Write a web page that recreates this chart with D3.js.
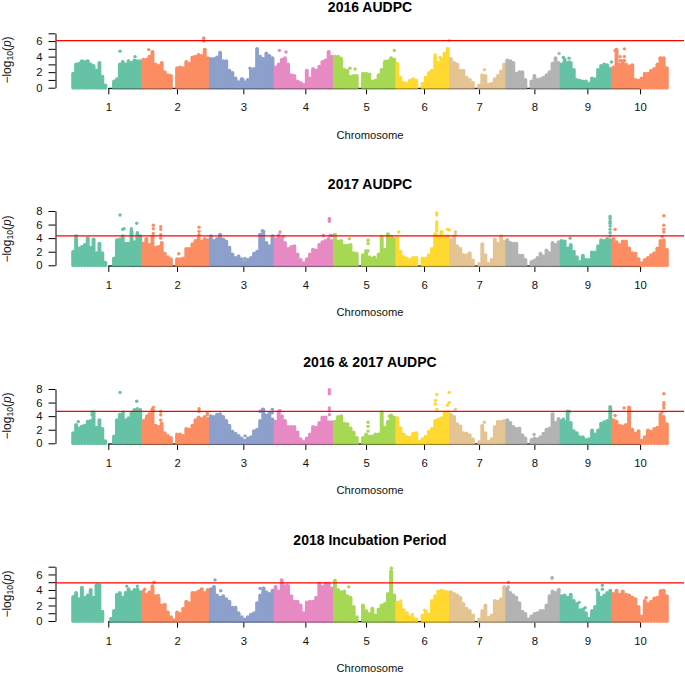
<!DOCTYPE html>
<html>
<head>
<meta charset="utf-8">
<script src="https://cdn.jsdelivr.net/npm/d3@7"></script>
<style>
body { margin: 0; background: #fff; }
svg { display: block; font-family: "Liberation Sans", Arial, sans-serif; }
</style>
</head>
<body>
<script>
const width = 685
const height = 673

const chromNames = ['1','2','3','4','5','6','7','8','9','10']
const chromLengths = [70, 67.6, 64.7, 59.3, 62.4, 53.6, 56.4, 54.3, 51.7, 56.6]
const chromTicks = [36.6, 105.3, 171.6, 233.6, 294.3, 352.3, 407.3, 462.6, 515.6, 568.3]
const chromColors = ['#66c2a5','#fc8d62','#8da0cb','#e78ac3','#a6d854','#ffd92f','#e5c494','#b3b3b3','#66c2a5','#fc8d62']

const panelTitles = ['2016 AUDPC', '2017 AUDPC', '2016 & 2017 AUDPC', '2018 Incubation Period']
const thresholds = [6.07, 4.32, 4.71, 4.9]
const yMaxes = [7, 8, 8, 7]
const yTicks = [[0,1,2,3,4,5,6,7], [0,2,4,6,8], [0,2,4,6,8], [0,1,2,3,4,5,6,7]]

// top of the point cloud along each chromosome, -log10(p), evenly spaced, null = no markers
const peaks2016 = [
  [1.8,3.0,3.1,3.4,3.3,3.4,3.0,2.8,2.2,3.2,1.4,0.3,null,null,0.8,1.1,3.0,3.3,3.0,3.4,3.2,3.5,3.4,3.4],
  [3.6,3.6,4.0,4.6,3.0,2.8,3.2,2.0,1.6,1.5,null,2.5,2.6,2.5,3.3,3.1,3.9,4.0,4.2,4.1,4.9,3.8],
  [3.7,3.7,3.9,4.5,3.4,3.4,2.2,1.9,1.2,0.7,1.1,0.7,1.0,2.3,2.4,5.0,4.0,3.7,4.4,4.1,3.8],
  [2.6,3.0,3.6,3.8,3.0,1.6,1.5,0.8,0.6,0.4,2.2,1.2,2.4,2.2,2.7,3.3,3.5,4.6,4.0],
  [4.0,4.0,3.5,2.3,2.2,1.4,1.5,1.5,null,1.8,1.8,1.7,0.8,0.9,1.6,2.3,3.2,3.4,3.8,3.6],
  [3.1,1.3,0.6,0.5,0.9,1.1,0.9,null,0.5,1.3,1.9,2.2,3.9,3.2,3.7,4.4,5.0],
  [3.7,3.2,3.0,2.2,2.2,1.3,1.0,0.6,null,0.3,1.6,1.5,0.4,0.5,1.1,1.5,2.1,3.0],
  [3.5,3.4,3.2,1.8,2.0,2.0,1.0,null,0.8,1.5,1.0,1.1,1.3,1.6,2.0,3.1,3.8,3.2],
  [3.0,3.6,3.2,3.2,2.3,1.0,0.9,0.8,0.8,0.5,1.2,1.1,2.3,2.8,3.0,2.9,2.4],
  [2.6,4.9,3.0,3.4,3.0,2.5,2.9,1.0,0.9,1.2,1.8,1.8,2.2,2.4,3.0,3.8,3.8,2.5]
]
const peaks2017 = [
  [2.0,4.3,2.5,2.7,3.0,4.0,2.6,3.8,1.8,3.2,1.8,0.4,null,null,1.0,3.7,3.8,4.3,3.2,3.2,5.0,3.4,4.5,4.3],
  [3.2,3.9,3.0,4.2,2.6,2.7,3.3,1.7,1.2,0.9,null,0.9,0.9,1.0,2.4,2.4,3.1,3.6,4.0,3.5,3.9,3.7],
  [4.3,3.6,3.9,4.5,3.8,3.5,2.6,1.6,1.1,1.3,0.9,0.5,0.8,1.1,1.7,2.0,4.5,5.0,3.3,2.8,4.3],
  [3.8,4.4,3.9,3.3,2.4,2.7,2.8,1.6,0.8,0.3,0.9,1.6,2.3,2.2,3.0,3.4,3.6,3.9,3.6],
  [4.5,3.5,3.6,2.9,2.9,3.0,1.8,1.7,null,1.5,2.1,1.2,1.0,0.8,1.6,4.2,2.3,4.6,4.2,3.9],
  [4.0,2.0,1.2,1.0,0.8,1.1,1.1,null,1.0,1.0,1.5,2.4,4.6,4.2,4.9,4.2,4.3],
  [3.7,4.2,2.8,2.4,1.5,1.5,1.8,0.7,null,0.2,3.1,1.5,0.2,0.8,3.8,3.2,4.3,3.5],
  [3.7,3.3,3.2,3.2,1.4,1.4,0.8,null,0.5,0.7,1.1,1.7,1.3,2.2,1.8,3.3,3.0,3.4],
  [3.6,3.5,2.5,3.0,2.0,1.2,0.5,1.4,0.8,0.8,1.9,1.9,2.8,3.7,3.6,3.9,3.7],
  [3.9,3.4,3.0,3.5,3.5,2.5,1.8,1.7,0.9,0.3,0.8,1.1,1.5,1.8,2.5,3.6,3.7,2.3]
]
const peaksBoth = [
  [1.5,2.7,2.2,2.5,2.6,3.2,3.3,4.6,2.3,3.4,2.1,0.3,null,null,1.0,3.4,4.2,4.4,3.4,3.7,4.5,4.9,4.7,4.9],
  [3.3,3.6,4.3,5.0,2.6,2.4,2.9,1.5,1.1,0.8,null,1.3,1.3,1.1,2.1,2.0,2.6,3.4,3.8,3.6,3.9,3.6],
  [4.0,3.9,4.2,4.3,3.9,3.3,2.6,1.7,1.4,1.1,0.7,0.4,0.7,0.9,1.8,2.0,3.3,5.0,4.1,4.4,3.5],
  [3.2,4.7,4.0,3.3,2.4,2.4,2.4,1.6,0.6,0.2,0.7,1.3,2.4,2.3,3.0,3.8,3.8,3.1,3.1],
  [3.2,3.9,4.0,2.9,2.8,2.2,1.6,0.8,null,0.8,1.3,1.0,1.0,1.3,1.3,4.6,2.3,3.2,4.1,3.8],
  [3.7,2.2,1.3,0.9,0.8,1.4,1.5,0.2,0.6,0.9,1.7,2.1,3.3,3.5,3.7,4.5,4.6],
  [4.2,3.9,2.8,2.5,1.5,1.4,1.2,0.6,null,0.2,2.6,1.5,0.2,0.6,2.4,3.2,3.2,3.3],
  [3.4,3.0,2.4,2.1,2.2,1.2,0.7,null,0.5,0.7,0.6,0.9,1.4,2.0,2.2,4.3,3.0,3.6],
  [3.3,3.2,4.7,3.0,1.8,1.5,0.9,0.9,0.5,0.6,1.9,1.3,1.9,2.9,3.1,3.3,5.2],
  [3.4,3.2,2.6,2.5,2.7,5.3,2.0,1.4,1.8,0.4,0.9,1.9,1.7,2.1,2.3,4.3,3.9,2.8]
]
const peaks2018 = [
  [3.1,3.6,2.8,4.3,3.0,3.3,4.0,3.0,4.6,4.6,1.2,null,null,0.3,1.3,3.4,3.6,3.0,3.6,4.1,3.7,4.0,4.1,3.7],
  [3.8,3.4,3.7,4.5,3.2,2.9,2.0,2.1,1.1,0.5,0.1,1.1,0.9,1.6,2.5,2.3,3.6,3.6,3.8,4.1,3.6,4.0],
  [4.1,4.4,3.3,3.0,3.2,2.8,2.5,1.7,1.7,1.0,0.5,0.2,0.5,0.8,1.0,2.3,3.3,4.2,3.7,3.5,3.9],
  [4.4,3.8,5.2,4.5,4.5,3.2,2.5,2.5,2.0,1.0,2.4,2.5,2.5,3.0,4.8,4.4,4.8,4.8,4.2],
  [5.2,4.0,3.7,3.8,3.2,3.0,1.8,0.5,null,2.0,1.3,0.9,1.6,0.7,1.5,2.0,2.2,3.5,6.4,3.3],
  [2.4,2.2,1.4,1.0,0.5,0.4,0.2,null,0.7,1.2,0.8,2.6,3.2,3.8,3.9,3.8,3.7],
  [3.7,3.5,3.3,3.0,2.2,1.6,1.3,0.7,null,0.2,1.3,2.0,0.4,0.7,2.6,2.5,2.8,4.4],
  [4.2,3.6,3.3,3.0,2.3,1.2,0.9,0.2,0.6,0.9,1.0,1.3,1.3,2.0,3.2,3.8,3.6,4.0],
  [3.2,3.3,3.0,3.4,2.6,2.2,1.4,1.5,1.0,0.3,1.3,1.8,3.6,3.0,3.3,3.6,3.9],
  [3.5,3.9,3.4,3.8,3.4,3.3,3.0,2.8,1.8,0.6,2.6,2.2,2.5,2.9,3.0,3.8,3.9,3.2]
]

// markers standing clear of the cloud: [genome position, -log10(p)]
const extras2016 = [[48.3,4.7],[63.3,4.0],[77,4.9],[132,6.4],[132,6.2],[132,6.0],[178.3,2.5],[171,1.1],[207.6,4.8],[214.3,4.6],
  [269.3,3.8],[278.3,2.5],[283.3,2.4],[313.3,3.4],[322.6,4.8],[341.6,1.0],[363.3,4.2],[368.3,3.9],[377.4,6.1],[412.6,2.3],
  [487.3,4.4],[491.6,3.9],[497.3,3.8],[492.3,3.2],[497.6,3.3],[539.6,3.3],[543.3,4.8],[552.6,5.0],[548.3,4.0],[552.6,4.0],
  [548.3,3.5],[552.6,3.5],[557.6,2.8],[588.3,3.8]]
const extras2017 = [[48.3,7.4],[65,6.2],[51,5.3],[52.3,5.4],[59.6,5.4],[65.6,4.8],[81.6,5.9],[81.6,5.4],[81.6,4.7],[89,5.7],
  [89,5.3],[89,4.5],[89,4.0],[107,1.7],[127.3,5.6],[127.3,5.0],[127.3,4.5],[173.3,1.0],[190.6,5.1],[188.3,4.5],
  [208.3,4.9],[211.6,4.2],[251.6,4.4],[258.3,4.4],[260,4.4],[257.6,6.5],[257.6,6.9],[257.6,6.7],[296.3,3.7],[296.3,3.2],
  [296.3,2.1],[302.6,1.2],[277.6,3.9],[327,4.9],[365,7.7],[365,7.4],[365,6.4],[365,6.1],[365,5.8],[365,5.4],[365,5.1],
  [375.6,5.3],[377.4,5.2],[383.6,4.9],[383.6,4.5],[498.3,4.0],[538.3,7.2],[538.3,6.9],[538.3,6.5],[538.3,6.2],[538.3,5.8],
  [538.3,5.3],[538.3,4.8],[538.3,4.3],[520,1.9],[543.3,5.3],[592,7.3],[592,5.9],[592,5.3],[592,4.9],[590.3,4.2]]
const extrasBoth = [[6.6,3.2],[20.3,4.6],[20.3,4.2],[48.3,7.5],[65,6.2],[51.6,4.6],[65.6,5.1],[81.6,5.3],[81.6,4.8],[89,4.7],
  [89,4.2],[89,3.4],[127.3,5.1],[127.3,4.7],[135.6,4.2],[135.6,4.5],[75,4.0],[173.3,1.1],[190.6,5.0],[188.3,4.7],[200.6,5.0],
  [200.6,4.5],[257.6,7.9],[257.6,7.6],[257.6,7.3],[257.6,5.2],[257.6,4.8],[257.6,4.2],[208.3,4.8],[296.3,3.1],[296.3,2.5],
  [296.3,1.8],[317.6,4.0],[365,7.2],[363.6,6.3],[363.6,5.8],[365,5.0],[377.4,7.5],[377.4,6.0],[375.6,5.6],[341.6,1.4],[344.3,1.5],
  [338.3,0.8],[353.6,1.0],[383.6,5.0],[412.6,3.1],[462.3,1.3],[491.6,3.6],[497.6,4.7],[538.3,5.4],[543.3,4.1],[552.3,5.2],
  [592,7.3],[592,6.0],[592,5.6],[592,5.2],[590.3,4.6]]
const extras2018 = [[55,4.5],[65.6,4.5],[73,4.1],[82.3,5.0],[86.6,3.3],[143.3,5.3],[149,3.9],[188.3,4.2],[192.3,4.2],
  [209.6,5.3],[215.6,4.6],[227.6,2.0],[277,4.4],[319.6,6.8],[319.6,6.2],[319.6,5.8],[319.6,5.4],[319.6,5.0],[329,2.6],[353,1.4],
  [340.6,0.8],[401.6,0.7],[432.3,4.3],[436.6,5.0],[436.6,4.4],[480.3,5.6],[480.3,5.5],[487.3,4.0],[530.6,4.6],[530.6,4.1],
  [525,4.0],[507.3,2.4],[513.3,1.7],[536,3.4],[574.3,3.0],[589,3.9],[562.3,2.8]]

const allPeaks = [peaks2016, peaks2017, peaksBoth, peaks2018]
const allExtras = [extras2016, extras2017, extrasBoth, extras2018]

// pixel position of each panel's y = 0 line, and of the top of its y axis
const panelBase = [87.7, 265.3, 443.3, 621]
const panelTop = [33.3, 211, 389, 566.7]
const labelCenter = [60, 239, 416, 594]

const chromStarts = chromLengths.reduce((acc, l) => { acc.push(acc[acc.length - 1] + l); return acc }, [0])
const x = d3.scaleLinear().domain([0, d3.sum(chromLengths)]).range([71.7, 668.4])

const svg = d3.select('body').append('svg')
    .attr('width', width)
    .attr('height', height)

panelTitles.forEach((title, p) => {
    const y = d3.scaleLinear().domain([0, yMaxes[p]]).range([panelBase[p], panelTop[p]])
    const g = svg.append('g')

    // x axis goes first so the markers sit on top of it
    const xAxis = d3.axisBottom(x)
        .tickValues(chromTicks)
        .tickFormat((d, i) => chromNames[i])
        .tickSize(6)
        .tickPadding(9)
    const xg = g.append('g')
        .attr('transform', `translate(0,${panelBase[p] + 0.6})`)
        .call(xAxis)
    xg.select('.domain').remove()
    xg.append('line')
        .attr('x1', x(chromTicks[0]))
        .attr('x2', x(chromTicks[9]))
        .attr('stroke', '#000')
    xg.selectAll('text').attr('font-size', 11.3).attr('font-family', 'inherit').attr('fill', '#111')

    allPeaks[p].forEach((vals, c) => {
        const step = chromLengths[c] / vals.length
        const cols = vals.map((v, i) => ({ pos: chromStarts[c] + (i + 0.5) * step, v: v }))
            .filter(d => d.v !== null)
        g.append('g').selectAll('line')
            .data(cols)
            .enter().append('line')
            .attr('x1', d => x(d.pos))
            .attr('x2', d => x(d.pos))
            .attr('y1', y(0))
            .attr('y2', d => y(d.v))
            .attr('stroke', chromColors[c])
            .attr('stroke-width', 3.9)
            .attr('stroke-linecap', 'round')
    })

    g.append('g').selectAll('circle')
        .data(allExtras[p])
        .enter().append('circle')
        .attr('cx', d => x(d[0]))
        .attr('cy', d => y(d[1]))
        .attr('r', 1.7)
        .attr('fill', d => chromColors[Math.min(9, d3.bisectRight(chromStarts, d[0]) - 1)])

    // grey look of the axis where it runs under the markers
    g.append('line')
        .attr('x1', x(chromTicks[0]))
        .attr('x2', x(chromTicks[9]))
        .attr('y1', panelBase[p] + 1.1)
        .attr('y2', panelBase[p] + 1.1)
        .attr('stroke', '#000')
        .attr('opacity', .4)

    const yAxis = d3.axisLeft(y)
        .tickValues(yTicks[p])
        .tickFormat(d => d % 2 === 0 ? d : '')
        .tickSize(7)
        .tickSizeOuter(0)
        .tickPadding(6)
    const yg = g.append('g').attr('transform', 'translate(55.5,0)').call(yAxis)
    yg.selectAll('text').attr('font-size', 11.3).attr('font-family', 'inherit').attr('fill', '#111')

    g.append('line')
        .attr('x1', 56)
        .attr('x2', 684)
        .attr('y1', y(thresholds[p]))
        .attr('y2', y(thresholds[p]))
        .attr('stroke', '#f00')
        .attr('stroke-width', 1.25)

    g.append('text')
        .attr('x', 370)
        .attr('y', panelBase[p] - 76)
        .attr('text-anchor', 'middle')
        .attr('font-size', 14)
        .attr('font-weight', 'bold')
        .text(title)

    g.append('text')
        .attr('x', 370)
        .attr('y', panelBase[p] + 51)
        .attr('text-anchor', 'middle')
        .attr('font-size', 11.2)
        .attr('fill', '#111')
        .text('Chromosome')

    const yLabel = g.append('text')
        .attr('transform', `translate(11,${labelCenter[p]}) rotate(-90)`)
        .attr('text-anchor', 'middle')
        .attr('font-size', 12)
        .attr('fill', '#111')
    yLabel.append('tspan').text('\u2212log')
    yLabel.append('tspan').attr('font-size', 8.5).attr('dy', 2).text('10')
    yLabel.append('tspan').attr('dy', -2).text('(')
    yLabel.append('tspan').attr('font-style', 'italic').text('p')
    yLabel.append('tspan').text(')')
})
</script>
</body>
</html>
